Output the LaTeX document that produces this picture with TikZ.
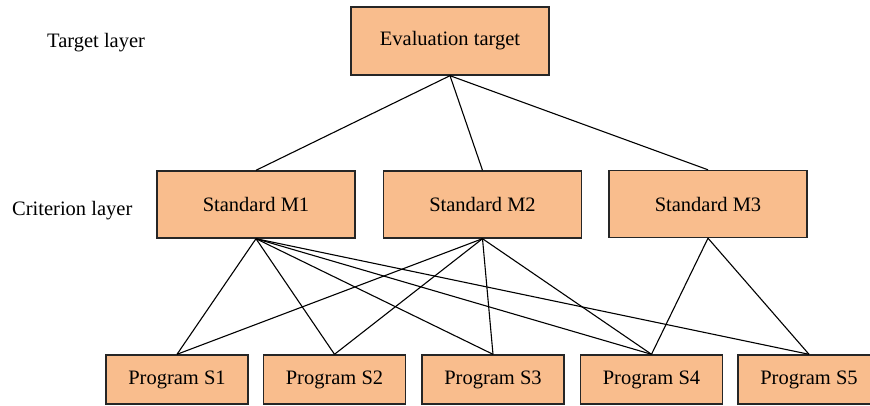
\documentclass[tikz,border=0pt]{standalone}
\usepackage{fontspec}
\setmainfont{Liberation Serif}
\definecolor{boxfill}{RGB}{249,189,141}
\begin{document}
\begin{tikzpicture}[x=1pt,y=-1pt,
  lvlbox/.style={draw=black!85, line width=1.4pt, fill=boxfill, inner sep=0pt,
    font=\fontsize{20.5}{24}\selectfont},
  toplvl/.style={lvlbox, minimum width=198pt, minimum height=68pt},
  midlvl/.style={lvlbox, minimum width=198pt, minimum height=67pt},
  botlvl/.style={lvlbox, minimum width=142pt, minimum height=49pt},
  layertag/.style={anchor=base west, inner sep=0pt, font=\fontsize{20.5}{24}\selectfont},
  link/.style={line width=1.1pt, black}]
\useasboundingbox (0,0) rectangle (870,406);
\clip (0,0) rectangle (870,406);

% layer captions
\node[layertag] (tl) at (47,48) {Target layer};
\node[layertag] (cl) at (12,215) {Criterion layer};

% connectors first, so the boxes sit on top of them
\coordinate (t)  at (450,75);
\coordinate (m1t) at (256,171);
\coordinate (m2t) at (482.5,171);
\coordinate (m3t) at (708,170.5);

% goal
\node[toplvl] (goal) at (450,41) {Evaluation target};

% criteria
\node[midlvl] (m1) at (256,204.5) {Standard M1};
\node[midlvl] (m2) at (482.5,204.5) {Standard M2};
\node[midlvl] (m3) at (708,204) {Standard M3};

% alternatives
\node[botlvl] (s1) at (177,379.5) {Program S1};
\node[botlvl] (s2) at (334.5,379.5) {Program S2};
\node[botlvl] (s3) at (493,379.5) {Program S3};
\node[botlvl] (s4) at (651.5,379.5) {Program S4};
\node[botlvl] (s5) at (809,379.5) {Program S5};

% goal to criteria
\foreach \m in {m1,m2,m3}
  \draw[link] (goal.south) -- (\m.north);

% criteria to alternatives
\foreach \s in {s1,s2,s3,s4,s5}
  \draw[link] (m1.south) -- (\s.north);
\foreach \s in {s1,s2,s3,s4}
  \draw[link] (m2.south) -- (\s.north);
\foreach \s in {s4,s5}
  \draw[link] (m3.south) -- (\s.north);
\end{tikzpicture}
\end{document}
